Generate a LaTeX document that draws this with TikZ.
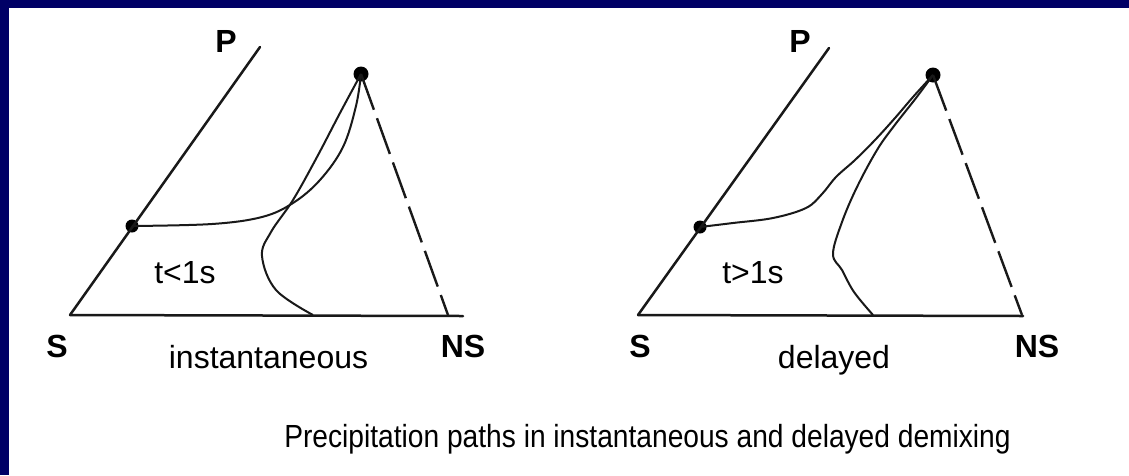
\documentclass[tikz,border=0pt]{standalone}
\usepackage{fontspec}
\setmainfont{Liberation Sans}
\usetikzlibrary{calc}
\definecolor{navyband}{RGB}{0,0,102}
\definecolor{ink}{RGB}{25,25,25}
\tikzset{
  axisline/.style={draw=ink, line width=2.5pt, line cap=round},
  dashedge/.style={draw=ink, line width=2.4pt, dash pattern=on 38pt off 9pt},
  pathcurve/.style={draw=ink, line width=2pt},
  dotnode/.style={circle, fill=black, inner sep=0pt, minimum size=13pt},
  bigdot/.style={circle, fill=black, inner sep=0pt, minimum size=15pt},
  cornerlbl/.style={font=\fontsize{32}{38}\selectfont\bfseries, inner sep=0pt},
  lbl/.style={font=\fontsize{32}{38}\selectfont, inner sep=0pt, anchor=base},
}
\begin{document}
\begin{tikzpicture}[x=1pt,y=-1pt]
\useasboundingbox (0,0) rectangle (1129,475);
\fill[white] (0,0) rectangle (1129,475);
\fill[navyband] (0,0) rectangle (1129,8);
\fill[navyband] (0,0) rectangle (9,475);

% ---------- left diagram ----------
\coordinate (lS) at (70,315);
\coordinate (lPend) at (260,47);
\coordinate (lBend) at (463,316);
\coordinate (lNS) at (448,315);
\node[dotnode] (lLdot) at (132,226) {};
\node[bigdot] (lTdot) at (361,74) {};
\draw[axisline] (lS) -- (lPend);
\draw[axisline] (lS) -- (lBend);
\draw[dashedge] (lTdot.center) -- (lNS);
\draw[pathcurve] plot[smooth, tension=0.6] coordinates
  {(361,74) (340,113) (317,157) (293,200) (271,232) (262,256) (276,290) (313,315)};
\draw[pathcurve] plot[smooth, tension=0.6] coordinates
  {(361,74) (356,106) (343,147) (320,180) (293,203) (262,217) (212,224) (132,226)};
\node[cornerlbl] (lP) at (226,41) {P};
\node[cornerlbl] (lSl) at (57,346) {S};
\node[cornerlbl] (lNSl) at (463,346) {NS};
\node[lbl] (lt) at (185,283) {t<1s};
\node[lbl] (linst) at (268.5,368) {instantaneous};

% ---------- right diagram ----------
\coordinate (rS) at (638,315);
\coordinate (rPend) at (829,48);
\coordinate (rBend) at (1023,316);
\coordinate (rNS) at (1022,315);
\node[dotnode] (rLdot) at (700,227) {};
\node[bigdot] (rTdot) at (933,75) {};
\draw[axisline] (rS) -- (rPend);
\draw[axisline] (rS) -- (rBend);
\draw[dashedge] (rTdot.center) -- (rNS);
\draw[pathcurve] plot[smooth, tension=0.6] coordinates
  {(700,227) (733,223) (773,218) (806,208) (822,194) (836,177) (855,160) (875,140) (895,118) (913,97) (933,75)};
\draw[pathcurve] plot[smooth, tension=0.6] coordinates
  {(933,75) (916,98) (894,126) (877,150) (857,187) (842,222) (833,254) (842,270) (854,292) (873,315)};
\node[cornerlbl] (rP) at (800,41) {P};
\node[cornerlbl] (rSl) at (640,346) {S};
\node[cornerlbl] (rNSl) at (1037,346) {NS};
\node[lbl] (rt) at (753,283) {t>1s};
\node[lbl] (rdel) at (834,368) {delayed};

% ---------- caption ----------
\node[lbl] (cap) at (647.5,447) {\scalebox{0.88}[1]{Precipitation paths in instantaneous and delayed demixing}};
\end{tikzpicture}
\end{document}
